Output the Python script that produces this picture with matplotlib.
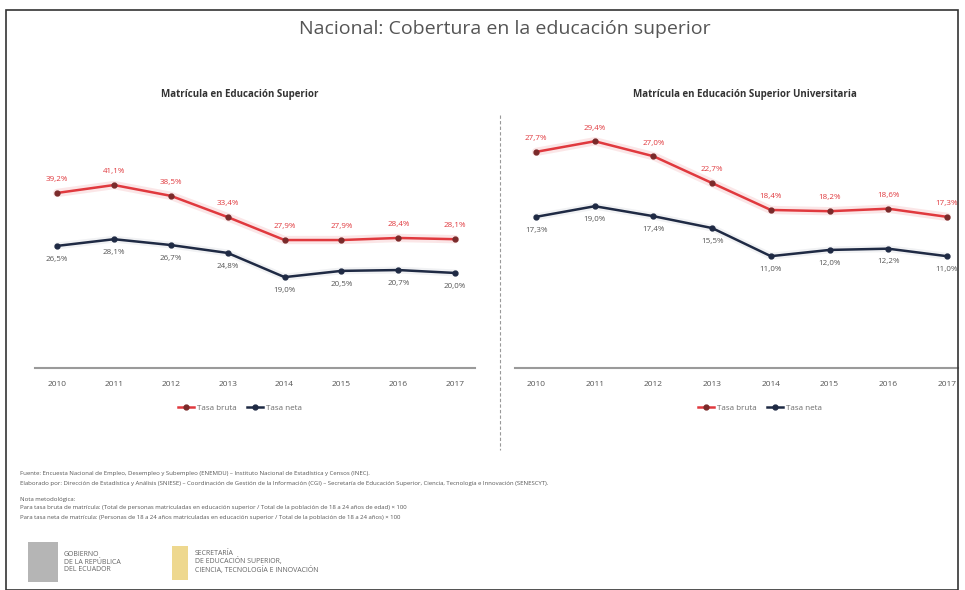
import numpy as np
import matplotlib.pyplot as plt
from matplotlib.patches import Rectangle
from matplotlib.lines import Line2D

# Datos (aproximados)
years = [2010, 2011, 2012, 2013, 2014, 2015, 2016, 2017]

sup_bruta = [39.2, 41.1, 38.5, 33.4, 27.9, 27.9, 28.4, 28.1]
sup_neta = [26.5, 28.1, 26.7, 24.8, 19.0, 20.5, 20.7, 20.0]

uni_bruta = [27.7, 29.4, 27.0, 22.7, 18.4, 18.2, 18.6, 17.3]
uni_neta = [17.3, 19.0, 17.4, 15.5, 11.0, 12.0, 12.2, 11.0]

RED = '#e0393e'
NAVY = '#1f2a44'
GREY = '#6b6b6b'

W, H = 965, 590
fig = plt.figure(figsize=(W / 100, H / 100), dpi=100)
plt.rcParams['font.family'] = ['Open Sans', 'DejaVu Sans']


def px(x0, y0, x1, y1):
    # rectangle in pixel coords (top-left origin) -> figure fraction
    return [x0 / W, 1 - y1 / H, (x1 - x0) / W, (y1 - y0) / H]


# outer frame
fig.patches.append(Rectangle((6 / W, 0), (952 / W), 1 - 10 / H, transform=fig.transFigure,
                             fill=False, edgecolor='#333333', linewidth=1.2))

fig.text(505 / W, 1 - 29 / H, 'Nacional: Cobertura en la educación superior',
         ha='center', va='center', fontsize=14, color='#555555')

# separador vertical
fig.add_artist(Line2D([500 / W, 500 / W], [1 - 115 / H, 1 - 450 / H], transform=fig.transFigure,
                      color='#999999', linestyle=(0, (3, 2)), linewidth=0.8))


def fmt(v):
    return f'{v:.1f}%'.replace('.', ',')


def panel(rect, xlim, ylim, bruta, neta, title, title_x, legend_x):
    ax = fig.add_axes(rect)
    # halo suave bajo las lineas
    ax.plot(years, bruta, color=RED, alpha=0.12, linewidth=6, solid_capstyle='round')
    ax.plot(years, neta, color=NAVY, alpha=0.06, linewidth=5, solid_capstyle='round')
    ax.plot(years, bruta, color=RED, linewidth=1.8, marker='o', markersize=3.5,
            markerfacecolor='#7a2a2a', markeredgecolor='#7a2a2a', label='Tasa bruta')
    ax.plot(years, neta, color=NAVY, linewidth=1.8, marker='o', markersize=3.5,
            markerfacecolor=NAVY, markeredgecolor=NAVY, label='Tasa neta')
    for x, v in zip(years, bruta):
        ax.annotate(fmt(v), (x, v), xytext=(0, 7), textcoords='offset points',
                    ha='center', va='bottom', fontsize=5.8, color=RED)
    for x, v in zip(years, neta):
        ax.annotate(fmt(v), (x, v), xytext=(0, -7), textcoords='offset points',
                    ha='center', va='top', fontsize=5.8, color='#555555')
    ax.set_xlim(*xlim)
    ax.set_ylim(*ylim)
    ax.set_yticks([])
    ax.set_xticks(years)
    ax.set_xticklabels([str(y) for y in years], fontsize=6, color='#555555')
    ax.tick_params(axis='x', length=0, pad=9)
    for s in ['top', 'left', 'right']:
        ax.spines[s].set_visible(False)
    ax.spines['bottom'].set_color('#9a9a9a')
    ax.spines['bottom'].set_linewidth(1.5)
    ax.patch.set_alpha(0)
    fig.text(title_x / W, 1 - 95 / H, title, ha='center', va='center',
             fontsize=7, fontweight='bold', color='#333333')
    fig.legend(handles=ax.get_lines()[2:], loc='center', ncol=2, frameon=False,
               bbox_to_anchor=(legend_x / W, 1 - 408 / H), fontsize=5.8,
               handlelength=2.0, columnspacing=1.2, handletextpad=0.4,
               labelcolor=GREY)
    return ax


panel(px(35, 130, 475, 368), (2009.61, 2017.35), (-2.8, 54.3),
      sup_bruta, sup_neta, 'Matrícula en Educación Superior', 240, 240)
panel(px(515, 120, 958, 368), (2009.64, 2017.19), (-6.9, 32.8),
      uni_bruta, uni_neta, 'Matrícula en Educación Superior Universitaria', 745, 760)

notes = [
    (474, 'Fuente: Encuesta Nacional de Empleo, Desempleo y Subempleo (ENEMDU) – Instituto Nacional de Estadística y Censos (INEC).'),
    (483, 'Elaborado por: Dirección de Estadística y Análisis (SNIESE) – Coordinación de Gestión de la Información (CGI) – Secretaría de Educación Superior, Ciencia, Tecnología e Innovación (SENESCYT).'),
    (499, 'Nota metodológica:'),
    (508, 'Para tasa bruta de matrícula: (Total de personas matriculadas en educación superior / Total de la población de 18 a 24 años de edad) × 100'),
    (517, 'Para tasa neta de matrícula: (Personas de 18 a 24 años matriculadas en educación superior / Total de la población de 18 a 24 años) × 100'),
]
for y, t in notes:
    fig.text(20 / W, 1 - y / H, t, ha='left', va='center', fontsize=4.3, color='#555555')

# logos (solo texto)
fig.patches.append(Rectangle((28 / W, 1 - 582 / H), 30 / W, 40 / H, transform=fig.transFigure,
                             facecolor='#b5b5b5', edgecolor='none'))
fig.text(64 / W, 1 - 562 / H, 'GOBIERNO\nDE LA REPÚBLICA\nDEL ECUADOR', ha='left', va='center',
         fontsize=5, color='#666666', linespacing=1.1)
fig.patches.append(Rectangle((172 / W, 1 - 580 / H), 16 / W, 34 / H, transform=fig.transFigure,
                             facecolor='#e8c860', edgecolor='none', alpha=0.7))
fig.text(195 / W, 1 - 562 / H, 'SECRETARÍA\nDE EDUCACIÓN SUPERIOR,\nCIENCIA, TECNOLOGÍA E INNOVACIÓN',
         ha='left', va='center', fontsize=5, color='#666666', linespacing=1.1)

fig.savefig('out.png', dpi=100)
